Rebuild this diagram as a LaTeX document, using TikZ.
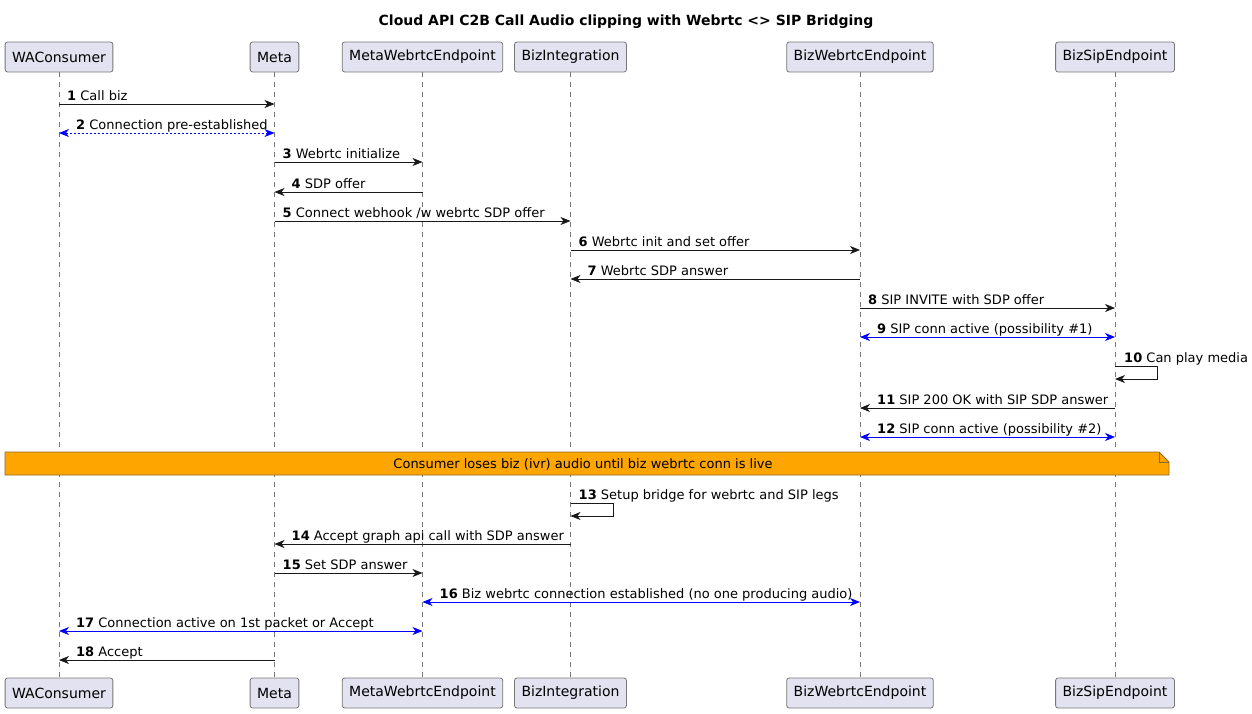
\documentclass[tikz,border=0pt]{standalone}
\usepackage{fontspec}
\setmainfont{DejaVu Sans}
\usetikzlibrary{arrows.meta}
\definecolor{partfill}{HTML}{E2E2F0}
\definecolor{partline}{HTML}{777777}
\definecolor{linegray}{HTML}{181818}
\definecolor{notefill}{HTML}{FFA500}
\definecolor{noteline}{HTML}{8A6A2A}
\tikzset{
	part/.style={draw=partline, line width=0.8pt, fill=partfill, rounded corners=2.5pt, minimum height=30pt, inner xsep=7pt, font=\fontsize{14}{16}\selectfont},
	life/.style={draw=partline, line width=0.5pt, dash pattern=on 5pt off 5pt},
	msgr/.style={draw=linegray, line width=0.8pt, -{Stealth[length=10pt, width=8pt, inset=3pt]}},
	msgl/.style={draw=linegray, line width=0.8pt, {Stealth[length=10pt, width=8pt, inset=3pt]}-},
	msgb/.style={draw=blue, line width=0.8pt, {Stealth[length=10pt, width=8pt, inset=3pt]}-{Stealth[length=10pt, width=8pt, inset=3pt]}},
	msgd/.style={msgb, dash pattern=on 2pt off 2pt},
	lbl/.style={anchor=base west, inner sep=0pt, font=\fontsize{13}{15}\selectfont}
}
\begin{document}
\begin{tikzpicture}[x=1pt, y=-1pt]
	\useasboundingbox (0,0) rectangle (1252,713);
	\node[font=\bfseries\fontsize{14}{16}\selectfont] (title) at (626,22) {Cloud API C2B Call Audio clipping with Webrtc <> SIP Bridging};
	
	% participants, top and bottom
	\foreach \p/\x/\t in {wa/59/WAConsumer, meta/274.5/Meta, mwe/422.5/MetaWebrtcEndpoint, bi/570.5/BizIntegration, bwe/860/BizWebrtcEndpoint, bse/1115/BizSipEndpoint}{
		\node[part] (\p) at (\x,57) {\t};
		\node[part] (\p2) at (\x,693) {\t};
		\draw[life] (\p) -- (\p2);
	}
	
	% messages between two lifelines
	\foreach \a/\b/\y/\s/\o/\n/\t in {
		wa/meta/104/msgr/8/1/{Call biz},
		wa/meta/133/msgd/17/2/{Connection pre-established},
		meta/mwe/162/msgr/8/3/{Webrtc initialize},
		meta/mwe/192/msgl/17/4/{SDP offer},
		meta/bi/221/msgr/8/5/{Connect webhook /w webrtc SDP offer},
		bi/bwe/250/msgr/8/6/{Webrtc init and set offer},
		bi/bwe/279/msgl/17/7/{Webrtc SDP answer},
		bwe/bse/308/msgr/8/8/{SIP INVITE with SDP offer},
		bwe/bse/337/msgb/17/9/{SIP conn active (possibility \#1)},
		bwe/bse/408/msgl/17/11/{SIP 200 OK with SIP SDP answer},
		bwe/bse/437/msgb/17/12/{SIP conn active (possibility \#2)},
		meta/bi/544/msgl/17/14/{Accept graph api call with SDP answer},
		meta/mwe/573/msgr/8/15/{Set SDP answer},
		mwe/bwe/602/msgb/17/16/{Biz webrtc connection established (no one producing audio)},
		wa/mwe/631/msgb/17/17/{Connection active on 1st packet or Accept},
		wa/meta/660/msgl/17/18/{Accept}}{
		\draw[\s] (\a |- 0,\y) -- (\b |- 0,\y);
		\node[lbl] (m\n) at ([xshift=\o pt] \a |- 0,\y-4) {\textbf{\n} \t};
	}
	
	% self messages
	\draw[msgr] (bse |- 0,366) -- ++(42,0) -- ++(0,13) -- (bse |- 0,379);
	\node[lbl] (m10) at ([xshift=9pt] bse |- 0,362) {\textbf{10} Can play media};
	\draw[msgr] (bi |- 0,503) -- ++(43,0) -- ++(0,13) -- (bi |- 0,516);
	\node[lbl] (m13) at ([xshift=8pt] bi |- 0,499) {\textbf{13} Setup bridge for webrtc and SIP legs};
	
	% note across all lifelines
	\draw[noteline, line width=0.8pt, fill=notefill] (5,452) -- (1159,452) -- (1169,462) -- (1169,475) -- (5,475) -- cycle;
	\draw[noteline, line width=0.8pt] (1159,452) -- (1159,462) -- (1169,462);
	\node[font=\fontsize{13}{15}\selectfont] (note) at (583,464) {Consumer loses biz (ivr) audio until biz webrtc conn is live};
\end{tikzpicture}
\end{document}
